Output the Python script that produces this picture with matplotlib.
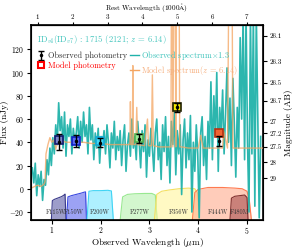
import matplotlib
matplotlib.use('Agg')
import matplotlib.pyplot as plt
import numpy as np

plt.rcParams['font.family'] = ['cmr10', 'DejaVu Serif']
plt.rcParams['mathtext.fontset'] = 'cm'
plt.rcParams['axes.formatter.use_mathtext'] = True
plt.rcParams['axes.unicode_minus'] = False

z = 6.14

# observed spectrum (x1.3), nJy, on a 0.03 um grid from 0.60 um
spec_wave = np.arange(0.60, 5.29, 0.03)
spec_flux = [18, 5, 22, -6, 12, 2, 15, -10, 8, 3,
             25, 12, 35, 20, 44, 30, 55, 38, 74, 50,
             62, 35, 66, 28, 55, 45, 60, 30, 52, 40,
             48, 62, 35, 58, 40, 66, 45, 55, 30, 70,
             42, 55, 25, 48, 35, 52, 22, 45, 38, 50,
             30, 55, 40, 18, 48, 35, 58, 25, 45, 33,
             50, 20, 42, 55, 15, 38, 48, 28, 60, 35,
             45, 25, 58, 40, 18, 50, 32, 55, 10, 42,
             28, 52, 35, 15, 48, 60, 25, 40, 8, 55,
             32, 62, 20, 45, 5, 58, 38, 66, 12, 50,
             30, 55, -5, 42, 60, 18, 48, 25, 63, -20,
             40, 15, 55, 30, -25, 48, 62, 20, 45, 8,
             58, 35, 92, 25, 80, 45, 100, 15, 70, 50,
             85, 30, 65, 104, 40, 78, 20, 95, 55, 10,
             70, 35, 130, 60, 150, 25, 150, 40, -20, 150,
             30, 150, -15, 150, 60, -25, 45]

# model spectrum
model_wave = [0.60, 0.70, 0.78, 0.84, 0.86, 0.88, 0.92, 0.96, 1.00, 1.04, 1.08, 1.12, 1.16,
              1.22, 1.30, 1.40, 1.50, 1.65, 1.80, 2.00, 2.20, 2.40, 2.60, 2.61, 2.62, 2.63,
              2.65, 2.66, 2.67, 2.72, 2.74, 2.76, 2.90, 2.96, 2.98, 3.04, 3.06, 3.08,
              3.20, 3.36, 3.44, 3.46, 3.48, 3.52, 3.54, 3.56, 3.58, 3.60, 3.62, 3.66,
              3.80, 4.00, 4.05, 4.10, 4.30, 4.50, 4.52, 4.60, 4.65, 4.68, 4.71, 4.80,
              5.00, 5.20, 5.35]
model_flux = [1, 3, 2, 4, 6, 30, 38, 44, 40, 42, 34, 40, 38,
              41, 40, 40, 40, 40, 39, 39, 38, 38, 38, 75, 38, 38,
              38, 106, 38, 38, 70, 38, 37, 60, 37, 37, 98, 37,
              36, 36, 36, 300, 36, 300, 36, 300, 300, 300, 36, 36,
              35, 35, 46, 35, 35, 35, 50, 35, 300, 300, 35, 35,
              35, 35, 35]

# photometry
filters = ['F115W', 'F150W', 'F200W', 'F277W', 'F356W', 'F444W']
pivot = [1.154, 1.501, 1.990, 2.786, 3.563, 4.421]
obs_flux = [40, 41, 39.5, 43, 70, 41]
obs_err = [7, 5, 4, 4, 4, 4]
model_phot = [42, 41, 41, 44, 70, 48]
sq_face = ['#7b84c8', '#5a6af0', '#40d8f4', '#98ec98', '#f6e800', '#f06434']
sq_edge = ['#101870', '#1020c8', '#10a8d8', '#50b050', '#202000', '#b83010']

# filter throughput curves (scaled into flux units above the bottom)
filt_names = ['F115W', 'F150W', 'F200W', 'F277W', 'F356W', 'F444W', 'F480M']
filt_wave = [[0.99, 1.01, 1.05, 1.10, 1.15, 1.20, 1.25, 1.27, 1.29],
             [1.30, 1.33, 1.40, 1.50, 1.60, 1.66, 1.69, 1.71],
             [1.72, 1.76, 1.85, 2.00, 2.15, 2.22, 2.26],
             [2.40, 2.45, 2.55, 2.70, 2.90, 3.05, 3.12, 3.16],
             [3.10, 3.15, 3.25, 3.40, 3.60, 3.80, 3.93, 3.99, 4.02],
             [3.88, 3.93, 4.00, 4.20, 4.50, 4.75, 4.90, 5.00, 5.05, 5.09],
             [4.65, 4.68, 4.75, 4.85, 4.95, 5.00, 5.02]]
filt_thr = [[0, 0.62, 0.66, 0.69, 0.72, 0.75, 0.80, 0.83, 0],
            [0, 0.74, 0.78, 0.82, 0.86, 0.89, 0.90, 0],
            [0, 0.92, 0.94, 0.94, 0.95, 0.93, 0],
            [0, 0.74, 0.82, 0.84, 0.85, 0.85, 0.80, 0],
            [0, 0.82, 0.92, 0.96, 1.00, 1.02, 1.00, 0.85, 0],
            [0, 0.88, 0.98, 1.04, 1.04, 1.02, 1.00, 0.92, 0.60, 0],
            [0, 0.70, 0.76, 0.78, 0.80, 0.72, 0]]
filt_fill = ['#5c5ca8', '#5a64ee', '#78e6ff', '#b6f2ae', '#fff59c', '#ffab8c', '#a85050']
filt_edge = ['#3a3a8a', '#3a48e0', '#40d4f4', '#98e890', '#f4e060', '#ff7a50', '#803030']
filt_label_x = [1.09, 1.45, 1.99, 2.80, 3.60, 4.40, 4.85]

mag_ticks = [26.1, 26.3, 26.5, 26.7, 27, 27.2, 27.5, 28, 29]

ymin, ymax = -27, 141

fig = plt.figure(figsize=(2.94, 2.49), dpi=100)
ax = fig.add_axes([0.105, 0.116, 0.79, 0.784])

for w, t, fc, ec, name, lx in zip(filt_wave, filt_thr, filt_fill, filt_edge, filt_names, filt_label_x):
    t = ymin + np.array(t) * 27
    ax.fill_between(w, ymin, t, color=fc, alpha=0.6, lw=0, zorder=1)
    ax.plot(w, t, color=ec, lw=0.8, zorder=1)
    ax.text(lx, -20, name, fontsize=4.5, color='#333333', ha='center', va='center', zorder=5)

ax.plot(spec_wave, spec_flux, color='#20b2aa', lw=1.2, alpha=0.95, zorder=2)
ax.plot(model_wave, model_flux, color='#f4a460', lw=1.0, alpha=0.75, zorder=3)

for p, m, fc, ec in zip(pivot, model_phot, sq_face, sq_edge):
    ax.plot(p, m, 's', ms=5.5, mfc=fc, mec=ec, mew=1.2, zorder=6)
h_obs = ax.errorbar(pivot, obs_flux, yerr=obs_err, fmt='.', color='k', ms=3, capsize=2.5,
                    elinewidth=1.0, capthick=1.0, zorder=7, label='Observed photometry')

# legend handles
h_mod, = ax.plot([], [], 's', ms=5, mfc='none', mec='red', mew=1.5, label='Model photometry')
h_spec, = ax.plot([], [], color='#20b2aa', lw=1.0, label=r'Observed spectrum$\times$1.3')
h_msp, = ax.plot([], [], color='#f4a460', lw=1.0, label=r'Model spectrum($z$ = 6.14)')
leg = ax.legend(handles=[h_obs, h_mod, h_spec, h_msp], ncol=2, loc='upper left',
                bbox_to_anchor=(0.0, 0.905), frameon=False, fontsize=6.0,
                handlelength=1.1, handletextpad=0.25, columnspacing=0.3,
                labelspacing=0.15, borderpad=0.2)
for txt, c in zip(leg.get_texts(), ['#333333', 'red', '#40c4bc', '#f6b080']):
    txt.set_color(c)

ax.text(0.025, 0.925, r'ID$_{v4}$(ID$_{v7}$) : 1715 (2121; $z$ = 6.14)', transform=ax.transAxes,
        fontsize=6.2, color='#40c4bc', va='center')

ax.set_xlim(0.57, 5.33)
ax.set_ylim(ymin, ymax)
ax.set_xticks([1, 2, 3, 4, 5])
ax.set_yticks([-20, 0, 20, 40, 60, 80, 100, 120])
ax.tick_params(labelsize=5.5, length=3, width=0.8, pad=1.5)
ax.tick_params(axis='x', pad=0.5)
ax.set_xlabel(r'Observed Wavelength ($\mu$m)', fontsize=6.6, labelpad=0)
ax.set_ylabel('Flux (nJy)', fontsize=6.6, labelpad=0)
for s in ax.spines.values():
    s.set_linewidth(1.2)

top = ax.secondary_xaxis('top', functions=(lambda x: x / (1 + z) * 10, lambda r: r * (1 + z) / 10))
top.set_xticks([1, 2, 3, 4, 5, 6, 7])
top.tick_params(labelsize=5.0, length=2, width=0.8, pad=0.5)
top.set_xlabel(r'Rest Wavelength (1000$\mathrm{\AA}$)', fontsize=5.2, labelpad=2.0)

rax = ax.twinx()
rax.set_ylim(ymin, ymax)
rax.set_yticks([10 ** ((31.4 - m) / 2.5) for m in mag_ticks])
rax.set_yticklabels([str(m) for m in mag_ticks])
rax.tick_params(labelsize=5.0, length=3, width=0.8, pad=1.5)
rax.set_ylabel('Magnitude (AB)', fontsize=6.6, labelpad=1.5)

fig.savefig('out.png', dpi=100)
